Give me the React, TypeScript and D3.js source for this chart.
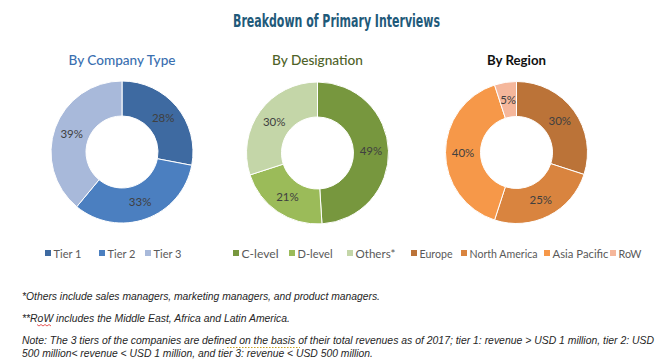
import { useRef, useEffect } from 'react';
import * as d3 from 'd3';

const companyTypes = ['Tier 1', 'Tier 2', 'Tier 3'];
const companyShares = [28, 33, 39];
const designations = ['C-level', 'D-level', 'Others*'];
const designationShares = [49, 21, 30];
const regions = ['Europe', 'North America', 'Asia Pacific', 'RoW'];
const regionShares = [30, 25, 40, 5];

const footnotes = [
  '*Others include sales managers, marketing managers, and product managers.',
  '**RoW includes the Middle East, Africa and Latin America.',
  'Note: The 3 tiers of the companies are defined on the basis of their total revenues as of 2017; tier 1: revenue > USD 1 million, tier 2: USD',
  '500 million< revenue < USD 1 million, and tier 3: revenue < USD 500 million.',
];

const W = 665, H = 364;

const PIES = [
  {
    title: 'By Company Type', titleColor: '#3a6fb0', titleWeight: 500, titleLen: 107,
    cx: 122, cy: 152, names: companyTypes, values: companyShares,
    colors: ['#3e6aa1', '#4b7fc0', '#a8b9da'],
    legendX: [45, 99, 145], legendW: [28, 28, 28],
  },
  {
    title: 'By Designation', titleColor: '#4f6228', titleWeight: 500, titleLen: 91,
    cx: 317.5, cy: 153, names: designations, values: designationShares,
    colors: ['#77973e', '#9bbb59', '#c4d6a8'],
    legendX: [233, 289, 347], legendW: [37, 35, 40],
  },
  {
    title: 'By Region', titleColor: '#111', titleWeight: 700, titleLen: 59,
    cx: 516.5, cy: 152.5, names: regions, values: regionShares,
    colors: ['#bb7338', '#d9843f', '#f69849', '#f5b79b'],
    legendX: [411, 461, 544, 610], legendW: [33, 68, 56, 23],
  },
];

const FONT = 'Lato, Carlito, "Open Sans", sans-serif';
const NARROW = '"Liberation Sans Narrow", "Arial Narrow", "DejaVu Sans Condensed", sans-serif';

export default function App() {
  const svgRef = useRef<SVGSVGElement>(null);

  useEffect(() => {
    document.body.style.margin = '0';
    const svg = d3.select(svgRef.current);
    svg.selectAll('*').remove();
    svg.append('rect').attr('width', W).attr('height', H).attr('fill', '#fff');

    svg.append('text').attr('x', 233).attr('y', 27)
      .attr('font-family', NARROW).attr('font-weight', 700).attr('font-size', 17)
      .attr('fill', '#1f5a7a').attr('textLength', 207).attr('lengthAdjust', 'spacingAndGlyphs')
      .text('Breakdown of Primary Interviews');

    const outer = 71, inner = 36;
    const arc = d3.arc<d3.PieArcDatum<number>>().innerRadius(inner).outerRadius(outer);
    const pie = d3.pie<number>().sort(null).value(d => d);

    PIES.forEach(p => {
      svg.append('text').attr('x', p.cx).attr('y', 65).attr('text-anchor', 'middle')
        .attr('font-family', FONT).attr('font-size', 14).attr('font-weight', p.titleWeight)
        .attr('fill', p.titleColor).attr('textLength', p.titleLen).attr('lengthAdjust', 'spacingAndGlyphs')
        .text(p.title);

      const g = svg.append('g').attr('transform', `translate(${p.cx},${p.cy})`);
      const arcs = pie(p.values);
      g.selectAll('path').data(arcs).join('path')
        .attr('d', arc).attr('fill', (d, i) => p.colors[i])
        .attr('stroke', '#fff').attr('stroke-width', 1);
      g.selectAll('text').data(arcs).join('text')
        .attr('transform', d => `translate(${arc.centroid(d)})`)
        .attr('text-anchor', 'middle').attr('dy', '0.35em')
        .attr('font-family', FONT).attr('font-size', 11.5).attr('fill', '#404040')
        .text(d => `${d.data}%`);

      const leg = svg.append('g');
      p.names.forEach((n, i) => {
        leg.append('rect').attr('x', p.legendX[i]).attr('y', 250).attr('width', 6).attr('height', 6)
          .attr('fill', p.colors[i]);
        leg.append('text').attr('x', p.legendX[i] + 8.5).attr('y', 257.5)
          .attr('font-family', FONT).attr('font-size', 12).attr('fill', '#595959')
          .attr('textLength', p.legendW[i]).attr('lengthAdjust', 'spacingAndGlyphs').text(n);
      });
    });

    // footnotes
    const lines = [
      { y: 300, len: 358 },
      { y: 322, len: 268 },
      { y: 344, len: 632 },
      { y: 357, len: 351 },
    ];
    footnotes.forEach((t, i) => {
      svg.append('text').attr('x', 22).attr('y', lines[i].y)
        .attr('font-family', '"Liberation Sans", Arial, sans-serif').attr('font-style', 'italic').attr('font-size', 10.5)
        .attr('fill', '#262626').attr('textLength', lines[i].len).attr('lengthAdjust', 'spacingAndGlyphs')
        .text(t);
    });

    // spell-check marks from the source document
    const wave = d3.range(37, 53, 2).map((x, i) => [x, 325 + (i % 2 ? 1 : -0.5)] as [number, number]);
    svg.append('path').attr('d', d3.line()(wave)).attr('fill', 'none')
      .attr('stroke', '#e03030').attr('stroke-width', 0.8);
    svg.append('line').attr('x1', 227).attr('x2', 300).attr('y1', 347.5).attr('y2', 347.5)
      .attr('stroke', '#c8a020').attr('stroke-width', 1.2).attr('stroke-dasharray', '1.5,1.5');
  }, []);

  return <svg ref={svgRef} width={W} height={H} style={{ display: 'block' }} />;
}
